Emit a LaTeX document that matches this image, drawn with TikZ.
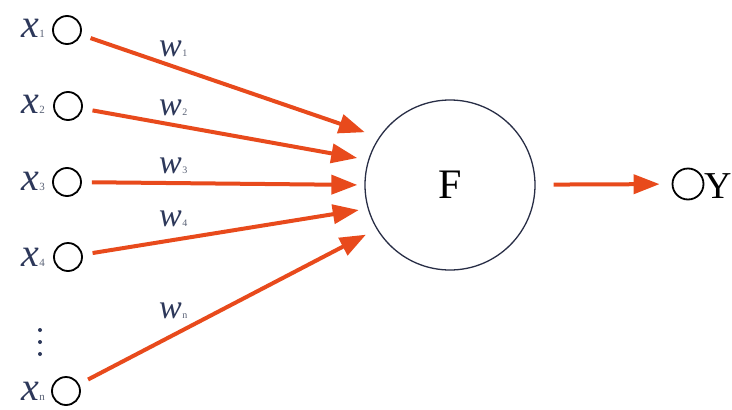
\documentclass[tikz,border=0pt]{standalone}
\usepackage{fontspec}
\setmainfont{Liberation Serif}
\usetikzlibrary{arrows.meta}
\definecolor{arrorange}{RGB}{232,74,28}
\definecolor{labnavy}{RGB}{45,56,90}
\definecolor{subgray}{RGB}{90,98,118}
\definecolor{circnavy}{RGB}{40,46,70}
\newcommand\xlab[1]{{\fontsize{40}{40}\selectfont\itshape x}\kern0.5pt{\color{subgray}\fontsize{11}{11}\selectfont #1}}
\newcommand\wlab[1]{{\fontsize{34}{34}\selectfont\itshape w}\kern0.5pt{\color{subgray}\fontsize{10}{10}\selectfont #1}}
\tikzset{
  inp/.style={circle,draw=black,line width=1.8pt,minimum size=28pt,inner sep=0pt},
  outp/.style={circle,draw=black,line width=1.8pt,minimum size=31pt,inner sep=0pt},
  neuron/.style={circle,draw=circnavy,line width=1.3pt,minimum size=170pt,inner sep=0pt},
  arr/.style={draw=arrorange,line width=4pt,-{Triangle[length=26pt,width=19pt]},shorten <=10pt,shorten >=13pt},
  xl/.style={anchor=base east,text=labnavy,inner sep=0pt},
  wl/.style={anchor=base west,text=labnavy,inner sep=0pt},
  dot/.style={circle,fill=labnavy,minimum size=4pt,inner sep=0pt}
}
\begin{document}
\begin{tikzpicture}[x=1pt,y=-1pt]
\useasboundingbox[fill=white] (0,0) rectangle (732,410);
% input circles
\node[inp] (i1) at (67,30) {};
\node[inp] (i2) at (68,106) {};
\node[inp] (i3) at (67,182) {};
\node[inp] (i4) at (68,257) {};
\node[inp] (in) at (66,391) {};
% neuron
\node[neuron] (F) at (450,185) {\fontsize{42}{42}\selectfont F};
% output
\node[outp] (Yc) at (688,184) {};
\node[anchor=west,inner sep=0pt] (Y) at (704,186) {\fontsize{38}{38}\selectfont Y};
% x labels
\node[xl] (x1) at (45,37) {\xlab{1}};
\node[xl] (x2) at (45,113) {\xlab{2}};
\node[xl] (x3) at (45,190) {\xlab{3}};
\node[xl] (x4) at (45,266) {\xlab{4}};
\node[xl] (xn) at (45,400) {\xlab{n}};
% dots
\node[dot] (d1) at (40,330) {};
\node[dot] (d2) at (40,342) {};
\node[dot] (d3) at (40,354) {};
% weight labels
\node[wl] (w1) at (159,56) {\wlab{1}};
\node[wl] (w2) at (159,115) {\wlab{2}};
\node[wl] (w3) at (159,173) {\wlab{3}};
\node[wl] (w4) at (159,226) {\wlab{4}};
\node[wl] (wn) at (159,318) {\wlab{n}};
% arrows
\draw[arr,shorten >=15pt] (i1) -- (F.146);
\draw[arr,shorten >=11pt] (i2) -- (F.163);
\draw[arr,shorten >=7pt] (i3) -- (F.180);
\draw[arr,shorten >=9pt] (i4) -- (F.196);
\draw[arr,shorten >=12pt] (in) -- (F.211);
\draw[arr,shorten <=18pt,shorten >=12pt] (F) -- (Yc);
\end{tikzpicture}
\end{document}
